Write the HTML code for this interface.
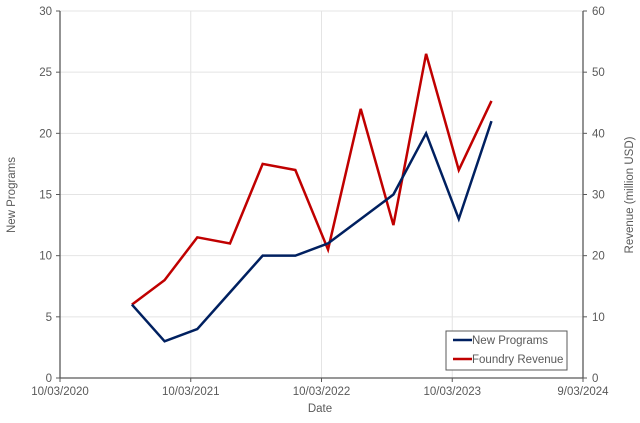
<!DOCTYPE html>
<html><head><meta charset="utf-8"><style>
body{margin:0;background:#fff;}
svg text{font-family:"Liberation Sans",sans-serif;fill:#595959;font-size:11.5px;}
</style></head><body>
<svg id="chart" width="640" height="418" viewBox="0 0 640 418" xmlns="http://www.w3.org/2000/svg"></svg>
<script>
const xTickLabels=["10/03/2020","10/03/2021","10/03/2022","10/03/2023","9/03/2024"];
const xTickValues=[0,1,2,3,4];
const leftTicks=[0,5,10,15,20,25,30];
const rightTicks=[0,10,20,30,40,50,60];
const dates=[0.55,0.80,1.05,1.30,1.55,1.80,2.05,2.30,2.55,2.80,3.05,3.30];
const newPrograms=[6,3,4,7,10,10,11,13,15,20,13,21];
const foundryRevenue=[12,16,23,22,35,34,21,44,25,53,34,45.3];
const L=60,R=583,T=11,B=378;
const sx=v=>L+(v-0)/(4-0)*(R-L);
const syL=v=>B-v/30*(B-T);
const syR=v=>B-v/60*(B-T);
const svg=document.getElementById('chart');
const NS="http://www.w3.org/2000/svg";
function mk(tag,attrs,name,text){const e=document.createElementNS(NS,tag);for(const k in attrs)e.setAttribute(k,attrs[k]);


if(text!==undefined)e.textContent=text;svg.appendChild(e);return e;}
leftTicks.forEach((t,i)=>{const y=syL(t);
if(t>0)mk('line',{x1:L,x2:R,y1:y,y2:y,stroke:'#e4e4e4','stroke-width':1},'h-gridline');
mk('line',{x1:L-4,x2:L,y1:y,y2:y,stroke:'#595959'},'left-tick');
mk('text',{x:L-8,y:y+4,'text-anchor':'end'},'left-tick-label',String(t));
mk('line',{x1:R,x2:R+4,y1:y,y2:y,stroke:'#595959'},'right-tick');
mk('text',{x:R+9,y:y+4,'text-anchor':'start'},'right-tick-label',String(rightTicks[i]));});
xTickValues.forEach((v,i)=>{const x=sx(v);
if(i>0&&i<4)mk('line',{x1:x,x2:x,y1:T,y2:B,stroke:'#e4e4e4'},'v-gridline');
mk('line',{x1:x,x2:x,y1:B,y2:B+4,stroke:'#595959'},'x-tick');
mk('text',{x:x,y:B+17,'text-anchor':'middle'},'x-tick-label',xTickLabels[i]);});
mk('line',{x1:L,x2:L,y1:T,y2:B,stroke:'#595959','stroke-width':1.3},'left-axis');
mk('line',{x1:R,x2:R,y1:T,y2:B,stroke:'#595959','stroke-width':1.3},'right-axis');
mk('line',{x1:L,x2:R,y1:B,y2:B,stroke:'#595959','stroke-width':1.3},'x-axis');
mk('polyline',{points:dates.map((d,i)=>sx(d)+','+syR(foundryRevenue[i])).join(' '),fill:'none',stroke:'#c00000','stroke-width':2.5},'foundry-revenue-line');
mk('polyline',{points:dates.map((d,i)=>sx(d)+','+syL(newPrograms[i])).join(' '),fill:'none',stroke:'#002060','stroke-width':2.5},'new-programs-line');
mk('text',{x:320,y:412,'text-anchor':'middle','font-size':12.5},'x-axis-title','Date');
mk('text',{x:15,y:195,'text-anchor':'middle','font-size':12.5,transform:'rotate(-90 15 195)'},'left-axis-title','New Programs');
mk('text',{x:633,y:195,'text-anchor':'middle','font-size':12.5,transform:'rotate(-90 633 195)'},'right-axis-title','Revenue (million USD)');
mk('rect',{x:446,y:331,width:121,height:39,fill:'#fff',stroke:'#595959','stroke-width':1},'legend-box');
mk('line',{x1:453,x2:472,y1:340,y2:340,stroke:'#002060','stroke-width':2.5},'legend-swatch-new-programs');
mk('text',{x:472,y:344},'legend-label-new-programs','New Programs');
mk('line',{x1:453,x2:472,y1:359,y2:359,stroke:'#c00000','stroke-width':2.5},'legend-swatch-foundry-revenue');
mk('text',{x:472,y:363},'legend-label-foundry-revenue','Foundry Revenue');
</script>
</body></html>
